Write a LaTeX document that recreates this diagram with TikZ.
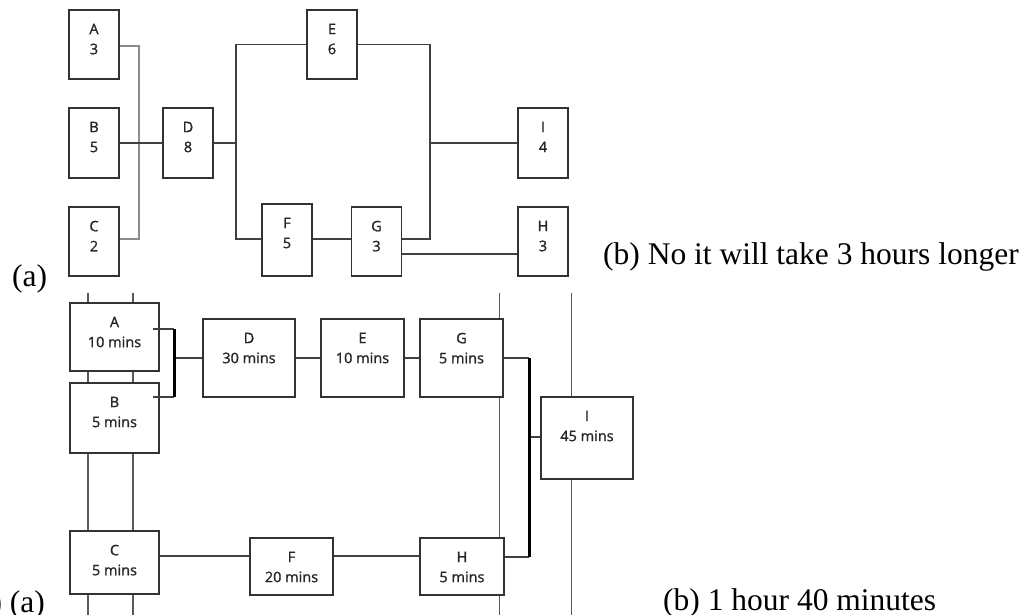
\documentclass[tikz,border=0pt]{standalone}
\usepackage{fontspec}
\setmainfont{Liberation Serif}
\newfontfamily\boxfont{Open Sans}[FakeBold=1.2]
\begin{document}
\begin{tikzpicture}[x=1pt,y=-1pt,
  box/.style={draw=black!80,line width=1.8pt,fill=white,inner sep=0pt,minimum width=#1},
  box/.default=50pt,
  lbl/.style={anchor=north,inner sep=0pt,align=center,text=black!85,font=\boxfont\fontsize{14.5}{20}\selectfont},
  conn/.style={draw=black!75,line width=1.4pt},
  lconn/.style={draw=black!45,line width=1.4pt},
  bar/.style={draw=black,line width=3pt},
  rule/.style={draw=black!65,line width=1.3pt},
  ans/.style={anchor=base west,inner sep=0pt,font=\fontsize{31.5}{38}\selectfont}]
\useasboundingbox (0,0) rectangle (1029,615);
\clip (0,0) rectangle (1029,615);
% ---------- top diagram ----------
\node[box,minimum height=69pt] (A1) at (94,44.5) {};
\node[box,minimum height=70pt] (B1) at (94,143) {};
\node[box,minimum height=69pt] (C1) at (94,241.5) {};
\node[box,minimum height=70pt] (D1) at (188,143) {};
\node[box,minimum height=69pt] (E1) at (332,44.5) {};
\node[box,minimum height=72pt] (F1) at (287,240) {};
\node[box,minimum height=69pt] (G1) at (376.5,241.5) {};
\node[box,minimum height=70pt] (I1) at (543,143) {};
\node[box,minimum height=69pt] (H1) at (543,241.5) {};
\foreach \n/\t in {A1/A\\3,B1/B\\5,C1/C\\2,D1/D\\8,E1/E\\6,F1/F\\5,G1/G\\3,I1/I\\4,H1/H\\3}
  \node[lbl] (\n t) at ([yshift=-14.5pt]\n.north) {\t};
\coordinate (j1) at (139,143);
\coordinate (j2) at (236,143);
\coordinate (j3) at (430,143);
\draw[lconn] ([yshift=-1.5pt]A1.east) -| (j1) |- ([yshift=2.5pt]C1.east);
\draw[conn] (B1.east) -- (D1.west);
\draw[conn] (D1.east) -- (j2);
\draw[conn] (E1.west) -| (j2) |- ([yshift=1pt]F1.west);
\draw[conn] ([yshift=1pt]F1.east) -- ([yshift=2.5pt]G1.west);
\draw[conn] (E1.east) -| (j3) |- ([yshift=2.5pt]G1.east);
\draw[conn] (j3) -- (I1.west);
\draw[conn] ([yshift=-12.5pt]G1.east) -- ([yshift=-12.5pt]H1.west);
% ---------- rules ----------
\foreach \x/\k in {88/r1,133/r2,499.5/r3,571.5/r4}{
  \coordinate (\k a) at (\x,293);
  \coordinate (\k b) at (\x,615);
  \draw[rule] (\k a) -- (\k b);
}
% ---------- bottom diagram ----------
\node[box=89pt,minimum height=68pt] (A2) at (114.5,337) {};
\node[box=89pt,minimum height=70pt] (B2) at (114.5,418) {};
\node[box=89pt,minimum height=63pt] (C2) at (114.5,562.5) {};
\node[box=92pt,minimum height=78pt] (D2) at (249,358) {};
\node[box=83pt,minimum height=78pt] (E2) at (362.5,358) {};
\node[box=83pt,minimum height=78pt] (G2) at (461.5,358) {};
\node[box=92pt,minimum height=82pt] (I2) at (587,438) {};
\node[box=83pt,minimum height=57pt] (F2) at (291.5,566.5) {};
\node[box=84pt,minimum height=57pt] (H2) at (462,566.5) {};
\foreach \n/\t in {A2/A\\10 mins,B2/B\\5 mins,C2/C\\5 mins,D2/D\\30 mins,E2/E\\10 mins,G2/G\\5 mins,I2/I\\45 mins,F2/F\\20 mins,H2/H\\5 mins}
  \node[lbl] (\n t) at ([yshift=-14.5pt]\n.north) {\t};
\coordinate (tA) at (174,329);
\coordinate (tB) at (174,397);
\coordinate (tD) at (174,358);
\coordinate (tG) at (529,358);
\coordinate (tH) at (529,557);
\coordinate (tI) at (529,437);
\draw[conn] ([xshift=-7pt,yshift=8pt]A2.east) -- (tA);
\draw[conn] ([xshift=-7pt,yshift=21pt]B2.east) -- (tB);
\draw[conn] (tD) -- (D2.west);
\draw[bar] (tA) -- (tB);
\draw[conn] (D2.east) -- (E2.west);
\draw[conn] (E2.east) -- (G2.west);
\draw[conn] (G2.east) -- (tG);
\draw[conn] ([yshift=9.5pt]H2.east) -- (tH);
\draw[conn] (tI) -- ([yshift=1pt]I2.west);
\draw[bar] (tG) -- (tH);
\draw[conn] ([yshift=6.5pt]C2.east) -- ([yshift=10.5pt]F2.west);
\draw[conn] ([yshift=10.5pt]F2.east) -- ([yshift=10.5pt]H2.west);
% ---------- answer texts ----------
\node[ans] (qa1) at (12,286) {(a)};
\node[ans] (qb1) at (603,264.5) {(b) No it will take 3 hours longer};
\node[ans] (qa2) at (-8.7,612) {) (a)};
\node[ans] (qb2) at (663,610) {(b) 1 hour 40 minutes};
\end{tikzpicture}
\end{document}
